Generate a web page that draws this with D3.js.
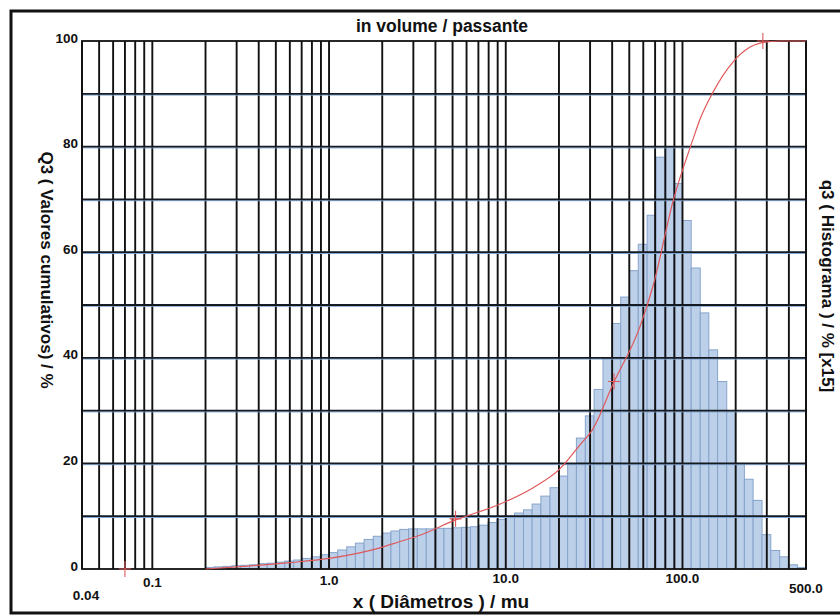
<!DOCTYPE html>
<html>
<head>
<meta charset="utf-8">
<script src="https://cdn.jsdelivr.net/npm/d3@7"></script>
<style>
  html, body { margin: 0; padding: 0; background: #fff; }
  svg { display: block; }
  text { font-family: "Liberation Sans", Arial, sans-serif; font-weight: bold; fill: #111; }
</style>
</head>
<body>
<svg id="chart" width="840" height="615"></svg>
<script>
// Size classes (µm): lower/upper limits of each histogram bar
const binEdges = [
  0.200, 0.224, 0.251, 0.282, 0.316, 0.355, 0.398, 0.447, 0.501, 0.562, 0.631, 0.708, 0.794, 0.891,
  1.00, 1.12, 1.26, 1.41, 1.58, 1.78, 2.00, 2.24, 2.51, 2.82, 3.16, 3.55, 3.98, 4.47, 5.01, 5.62, 6.31, 7.08, 7.94, 8.91,
  10.0, 11.2, 12.6, 14.1, 15.8, 17.8, 20.0, 22.4, 25.1, 28.2, 31.6, 35.5, 39.8, 44.7, 50.1, 56.2, 63.1, 70.8, 79.4, 89.1,
  100, 112, 126, 141, 158, 178, 200, 224, 251, 282, 316, 355, 398, 447, 500
];

// q3 histogram per class (% x15)
const q3Values = [
  0.3, 0.4, 0.5, 0.6, 0.7, 0.8, 1.0, 1.1, 1.3, 1.5, 1.7, 2.0, 2.3, 2.7,
  3.1, 3.6, 4.2, 4.9, 5.6, 6.2, 6.8, 7.2, 7.5, 7.6,
  7.6, 7.6, 7.7, 7.7, 7.8, 7.9, 8.0, 8.3, 8.8, 9.4,
  10.0, 10.6, 11.2, 12.3, 13.8, 15.4, 17.6, 19.8, 24.8, 29.0,
  34.0, 40.0, 46.5, 51.5, 56.5, 61.5, 67.0, 78.0, 80.0, 73.0,
  66.0, 57.0, 48.5, 41.5, 35.5, 30.0, 20.0, 17.0, 13.0, 6.5,
  3.5, 2.3, 0.8, 0.3
];

// Q3 cumulative curve (passing, %)
const curveDiam = [0.2, 0.36, 0.6, 1.0, 1.94, 2.52, 3.27, 5.2, 9.3, 14.3, 20.3, 26.3, 31.1, 40.4, 57.6, 68,   89, 115, 125,  150,  193, 240,  275,  356, 500];
const curveQ3   = [0,   0.6,  1.2, 2.0, 4.0,  5.2,  6.4,  9.3, 12.3, 15.4, 19,  23.5, 26.5, 35,   46,   53.5, 70, 81.5, 85, 90.5, 96, 98.8, 99.6, 100, 100];

// Marked points on the curve
const markDiam = [0.07, 5.2, 41, 285];
const markQ3   = [0,    9.5, 35.5, 100];

// Axis ticks
const xTickValues = [0.04, 0.1, 1, 10, 100, 500];
const xTickLabels = ["0.04", "0.1", "1.0", "10.0", "100.0", "500.0"];
const yTickValues = [0, 20, 40, 60, 80, 100];
const yTickLabels = ["0", "20", "40", "60", "80", "100"];

const svg = d3.select("#chart");
const plot = { left: 82, right: 806, top: 41, bottom: 569 };

const x = d3.scaleLog().domain([0.04, 500]).range([plot.left, plot.right]);
const y = d3.scaleLinear().domain([0, 100]).range([plot.bottom, plot.top]);

// Outer frame
svg.append("path")
  .attr("d", `M 850 11 L 11 11 L 11 613 L 850 613`)
  .attr("fill", "none").attr("stroke", "#111").attr("stroke-width", 3);

// Histogram bars
const bars = q3Values.map((v, i) => ({ x0: binEdges[i], x1: binEdges[i + 1], v }));
svg.append("g").selectAll("rect").data(bars).join("rect")
  .attr("x", d => x(d.x0))
  .attr("width", d => x(d.x1) - x(d.x0))
  .attr("y", d => y(d.v))
  .attr("height", d => y(0) - y(d.v))
  .attr("fill", "#bdd0ea")
  .attr("stroke", "#86a3cb")
  .attr("stroke-width", 1);

// Log grid: vertical lines at every 1..9 x 10^n
const gridX = x.ticks().filter(t => t >= 0.04 && t <= 500);
const grid = svg.append("g");
grid.selectAll("line.v").data(gridX).join("line")
  .attr("class", "v")
  .attr("x1", d => x(d)).attr("x2", d => x(d))
  .attr("y1", plot.top).attr("y2", plot.bottom)
  .attr("stroke", "#111").attr("stroke-width", 1.9);

// Horizontal lines every 10 %
const gridY = d3.range(10, 100, 10);
grid.selectAll("line.hb").data(gridY).join("line")
  .attr("class", "hb")
  .attr("x1", plot.left).attr("x2", plot.right)
  .attr("y1", d => y(d) + 1.3).attr("y2", d => y(d) + 1.3)
  .attr("stroke", "#7fa6d2").attr("stroke-width", 1);
grid.selectAll("line.h").data(gridY).join("line")
  .attr("class", "h")
  .attr("x1", plot.left).attr("x2", plot.right)
  .attr("y1", d => y(d)).attr("y2", d => y(d))
  .attr("stroke", "#151a22").attr("stroke-width", 1.8);

// Plot box
svg.append("rect")
  .attr("x", plot.left).attr("y", plot.top)
  .attr("width", plot.right - plot.left).attr("height", plot.bottom - plot.top)
  .attr("fill", "none").attr("stroke", "#111").attr("stroke-width", 1.8);

// Cumulative curve
const curve = curveDiam.map((d, i) => [d, curveQ3[i]]);
svg.append("path")
  .datum(curve)
  .attr("d", d3.line().x(d => x(d[0])).y(d => y(d[1])).curve(d3.curveMonotoneX))
  .attr("fill", "none").attr("stroke", "#e0585a").attr("stroke-width", 1.2);

// Cross markers
const marks = markDiam.map((d, i) => [d, markQ3[i]]);
svg.append("g").selectAll("path").data(marks).join("path")
  .attr("d", d => {
    const px = x(d[0]), py = y(d[1]);
    return `M ${px - 6} ${py} L ${px + 6} ${py} M ${px} ${py - 8} L ${px} ${py + 8}`;
  })
  .attr("stroke", "#e0585a").attr("stroke-width", 1.1).attr("fill", "none");

// X tick labels
const xLabelY = [600, 587, 585, 583, 583, 593];
svg.append("g").selectAll("text").data(xTickValues).join("text")
  .attr("x", (d, i) => i === 0 ? x(d) + 4 : x(d))
  .attr("y", (d, i) => xLabelY[i])
  .attr("text-anchor", "middle")
  .attr("font-size", 13.5)
  .text((d, i) => xTickLabels[i]);

// Y tick labels
svg.append("g").selectAll("text").data(yTickValues).join("text")
  .attr("x", 78)
  .attr("y", d => y(d) + 1.5)
  .attr("text-anchor", "end")
  .attr("font-size", 13.5)
  .text((d, i) => yTickLabels[i]);

// Titles
svg.append("text")
  .attr("x", 442).attr("y", 32)
  .attr("text-anchor", "middle").attr("font-size", 17.5)
  .text("in volume / passante");

svg.append("text")
  .attr("x", 441).attr("y", 608)
  .attr("text-anchor", "middle").attr("font-size", 19)
  .text("x ( Diâmetros ) / mu");

svg.append("text")
  .attr("transform", "translate(41,270) rotate(90)")
  .attr("text-anchor", "middle").attr("font-size", 17)
  .text("Q3 ( Valores cumulativos) / %");

svg.append("text")
  .attr("transform", "translate(822,286) rotate(90)")
  .attr("text-anchor", "middle").attr("font-size", 17)
  .text("q3 ( Histograma ) / % [x15]");
</script>
</body>
</html>
